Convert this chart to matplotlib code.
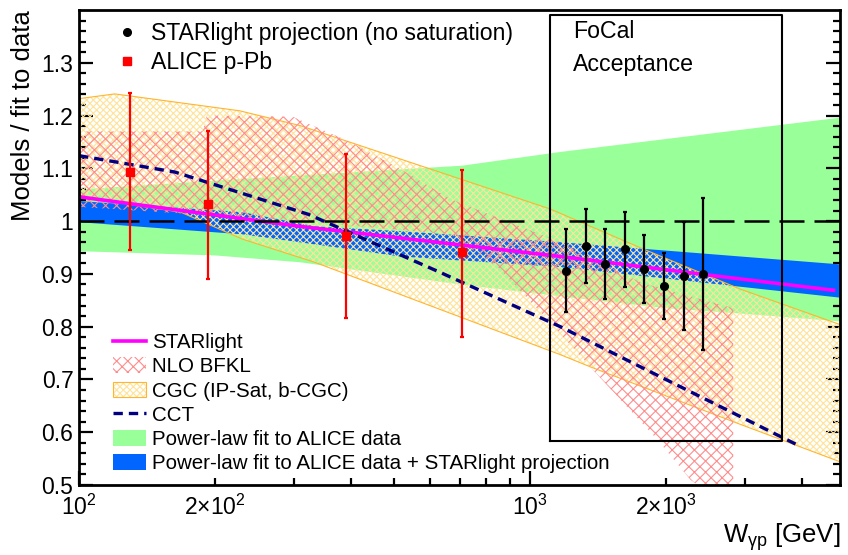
import numpy as np
import matplotlib
matplotlib.use('Agg')
import matplotlib.pyplot as plt
from matplotlib.lines import Line2D
from matplotlib.patches import Patch
from matplotlib.ticker import FixedLocator, FixedFormatter, NullFormatter

plt.rcParams['font.family'] = ['Liberation Sans', 'DejaVu Sans']
plt.rcParams['mathtext.fontset'] = 'custom'
plt.rcParams['mathtext.rm'] = 'Liberation Sans'
plt.rcParams['mathtext.it'] = 'Liberation Sans:italic'
plt.rcParams['hatch.linewidth'] = 0.8

# ALICE p-Pb measurement / fit
alice_w = [130, 193, 391, 706]
alice_y = [1.093, 1.032, 0.971, 0.941]
alice_lo = [0.945, 0.890, 0.816, 0.781]
alice_hi = [1.243, 1.171, 1.127, 1.097]

# STARlight projection (no saturation), FoCal acceptance
proj_w = [1202, 1331, 1467, 1624, 1790, 1982, 2195, 2418]
proj_y = [0.905, 0.953, 0.919, 0.947, 0.910, 0.877, 0.896, 0.899]
proj_lo = [0.827, 0.883, 0.853, 0.876, 0.845, 0.814, 0.793, 0.755]
proj_hi = [0.985, 1.023, 0.986, 1.018, 0.974, 0.940, 0.998, 1.043]

# STARlight model curve
starlight_w = [100, 309, 1166, 2418, 4700]
starlight_y = [1.046, 0.990, 0.933, 0.899, 0.869]

# CCT model curve
cct_w = [100, 163, 322, 631, 1166, 1754, 3908]
cct_y = [1.124, 1.093, 1.013, 0.903, 0.800, 0.724, 0.576]

# CGC (IP-Sat, b-CGC) band
cgc_up_w = [100, 120, 227, 309, 1107, 1782, 2924, 4860]
cgc_up_y = [1.232, 1.241, 1.209, 1.181, 1.023, 0.947, 0.871, 0.804]
cgc_lo_w = [100, 140, 168, 230, 333, 1166, 1358, 2818, 4860]
cgc_lo_y = [1.049, 1.027, 1.017, 0.966, 0.922, 0.747, 0.724, 0.620, 0.544]

# NLO BFKL band
bfkl_up_w = [100, 188, 192, 297, 399, 515, 665, 1166, 1754, 2818]
bfkl_up_y = [1.170, 1.170, 1.200, 1.198, 1.150, 1.099, 1.042, 0.960, 0.884, 0.835]
bfkl_lo_w = [100, 309, 665, 857, 1107, 1358, 1913, 2265, 2443, 2818]
bfkl_lo_y = [1.027, 1.000, 0.975, 0.909, 0.808, 0.724, 0.586, 0.510, 0.490, 0.490]

# power-law fit to ALICE data
fit_up_w = [100, 230, 706, 1166, 4860]
fit_up_y = [1.060, 1.080, 1.105, 1.131, 1.196]
fit_lo_w = [100, 200, 309, 700, 1100, 2000, 2818, 4860]
fit_lo_y = [0.943, 0.935, 0.922, 0.880, 0.860, 0.835, 0.826, 0.810]

# power-law fit to ALICE data + STARlight projection
fit2_w = [100, 230, 333, 515, 1166, 4860]
fit2_up = [1.038, 1.017, 0.990, 0.981, 0.960, 0.918]
fit2_lo = [0.998, 0.975, 0.956, 0.933, 0.913, 0.855]

focal_w = [1107, 3620]
focal_y = [0.584, 1.39]

y_ticks = [0.5, 0.6, 0.7, 0.8, 0.9, 1.0, 1.1, 1.2, 1.3]
y_labels = ['0.5', '0.6', '0.7', '0.8', '0.9', '1', '1.1', '1.2', '1.3']
x_major = [100, 1000]
x_major_labels = [r'$10^{2}$', r'$10^{3}$']
x_minor = [200, 300, 400, 500, 600, 700, 800, 900, 2000, 3000, 4000]
x_minor_labels = [r'$2{\times}10^{2}$', '', '', '', '', '', '', '',
                  r'$2{\times}10^{3}$', '', '']

GREEN = '#99ff99'
BLUE = '#0066ff'
ORANGE = '#ffb52e'
CGC_HATCH = '#ffe39a'
BFKL_HATCH = '#ff8c8c'
MAGENTA = '#ff00ff'
NAVY = '#000080'


def band(w_up, y_up, w_lo, y_lo):
    """Closed polygon from an upper and a lower edge."""
    return (np.r_[w_up, w_lo[::-1]], np.r_[y_up, y_lo[::-1]])


fig = plt.figure(figsize=(8.48, 5.55), dpi=100)
ax = fig.add_axes([0.0932, 0.1261, 0.8974, 0.8559])
ax.set_xscale('log')
ax.set_xlim(100, 4860)
ax.set_ylim(0.5, 1.4)

# bands
ax.fill(*band(fit_up_w, fit_up_y, fit_lo_w, fit_lo_y), color=GREEN, lw=0, zorder=1)
ax.fill(*band(fit2_w, fit2_up, fit2_w, fit2_lo), color=BLUE, lw=0, zorder=2)
cgc_x, cgc_y = band(cgc_up_w, cgc_up_y, cgc_lo_w, cgc_lo_y)
ax.fill(cgc_x, cgc_y, facecolor='none', edgecolor=CGC_HATCH, hatch='xxxxx', lw=0, zorder=3)
ax.fill(cgc_x, cgc_y, facecolor='none', edgecolor=ORANGE, lw=0.8, zorder=3)
ax.fill(*band(bfkl_up_w, bfkl_up_y, bfkl_lo_w, bfkl_lo_y), facecolor='none',
        edgecolor=BFKL_HATCH, hatch='xxx', lw=0, zorder=4)

# curves
ax.plot(starlight_w, starlight_y, color=MAGENTA, lw=2.6, zorder=5)
ax.axhline(1.0, color='black', lw=1.8, dashes=(10, 4), zorder=6)
ax.plot(cct_w, cct_y, color=NAVY, lw=2.4, dashes=(2.8, 1.8), zorder=6)

# FoCal acceptance box
ax.plot([focal_w[0], focal_w[0], focal_w[1], focal_w[1], focal_w[0]],
        [focal_y[0], focal_y[1], focal_y[1], focal_y[0], focal_y[0]],
        color='black', lw=1.5, zorder=7)
ax.text(0.649, 0.954, 'FoCal', transform=ax.transAxes, fontsize=16.7, va='center')
ax.text(0.649, 0.886, 'Acceptance', transform=ax.transAxes, fontsize=16.7, va='center')

# points
alice_err = [np.subtract(alice_y, alice_lo), np.subtract(alice_hi, alice_y)]
ax.errorbar(alice_w, alice_y, yerr=alice_err, fmt='s', color='red', ms=6,
            lw=1.6, capsize=1.5, capthick=1.6, zorder=8)
proj_err = [np.subtract(proj_y, proj_lo), np.subtract(proj_hi, proj_y)]
ax.errorbar(proj_w, proj_y, yerr=proj_err, fmt='o', color='black', ms=5.5,
            lw=1.6, capsize=1.5, capthick=1.6, zorder=8)

# axes style
for sp in ax.spines.values():
    sp.set_linewidth(2)
    sp.set_zorder(10)
ax.xaxis.set_major_locator(FixedLocator(x_major))
ax.xaxis.set_major_formatter(FixedFormatter(x_major_labels))
ax.xaxis.set_minor_locator(FixedLocator(x_minor))
ax.xaxis.set_minor_formatter(FixedFormatter(x_minor_labels))
ax.yaxis.set_major_locator(FixedLocator(y_ticks))
ax.yaxis.set_major_formatter(FixedFormatter(y_labels))
ax.yaxis.set_minor_locator(FixedLocator(np.arange(0.52, 1.4, 0.02)))
ax.yaxis.set_minor_formatter(NullFormatter())
ax.tick_params(which='both', direction='in', right=True, top=False, width=1.6,
               labelsize=16.5)
ax.tick_params(which='major', length=10)
ax.tick_params(which='minor', length=5)
ax.tick_params(axis='x', which='both', pad=7)
ax.tick_params(axis='y', which='both', pad=4)

ax.set_xlabel(r'W$_{\mathrm{γp}}$ [GeV]', loc='right', fontsize=18.5, labelpad=1)
ax.set_ylabel('Models / fit to data', loc='top', fontsize=18.5, labelpad=5)

# legends
top_handles = [
    Line2D([], [], ls='none', marker='o', color='black', ms=5.5),
    Line2D([], [], ls='none', marker='s', color='red', ms=6),
]
leg1 = ax.legend(top_handles, ['STARlight projection (no saturation)', 'ALICE p-Pb'],
                 loc='upper left', bbox_to_anchor=(0.05, 0.975), frameon=False,
                 fontsize=16.6, handlelength=0.9, handletextpad=0.55,
                 labelspacing=0.28, borderpad=0, borderaxespad=0)
ax.add_artist(leg1)

bot_handles = [
    Line2D([], [], color=MAGENTA, lw=2.6),
    Patch(facecolor='none', edgecolor=BFKL_HATCH, hatch='xxx', lw=0),
    (Patch(facecolor='none', edgecolor=CGC_HATCH, hatch='xxxxx', lw=0),
     Patch(facecolor='none', edgecolor=ORANGE, lw=0.8)),
    Line2D([], [], color=NAVY, lw=2.4, dashes=(2.8, 1.8)),
    Patch(facecolor=GREEN, lw=0),
    Patch(facecolor=BLUE, lw=0),
]
bot_labels = ['STARlight', 'NLO BFKL', 'CGC (IP-Sat, b-CGC)', 'CCT',
              'Power-law fit to ALICE data',
              'Power-law fit to ALICE data + STARlight projection']
ax.legend(bot_handles, bot_labels, loc='upper left', bbox_to_anchor=(0.045, 0.3195),
          frameon=False, fontsize=14.8, handlelength=1.6, handleheight=0.8,
          handletextpad=0.3, labelspacing=0.25, borderpad=0, borderaxespad=0)

fig.savefig('out.png', dpi=100)
